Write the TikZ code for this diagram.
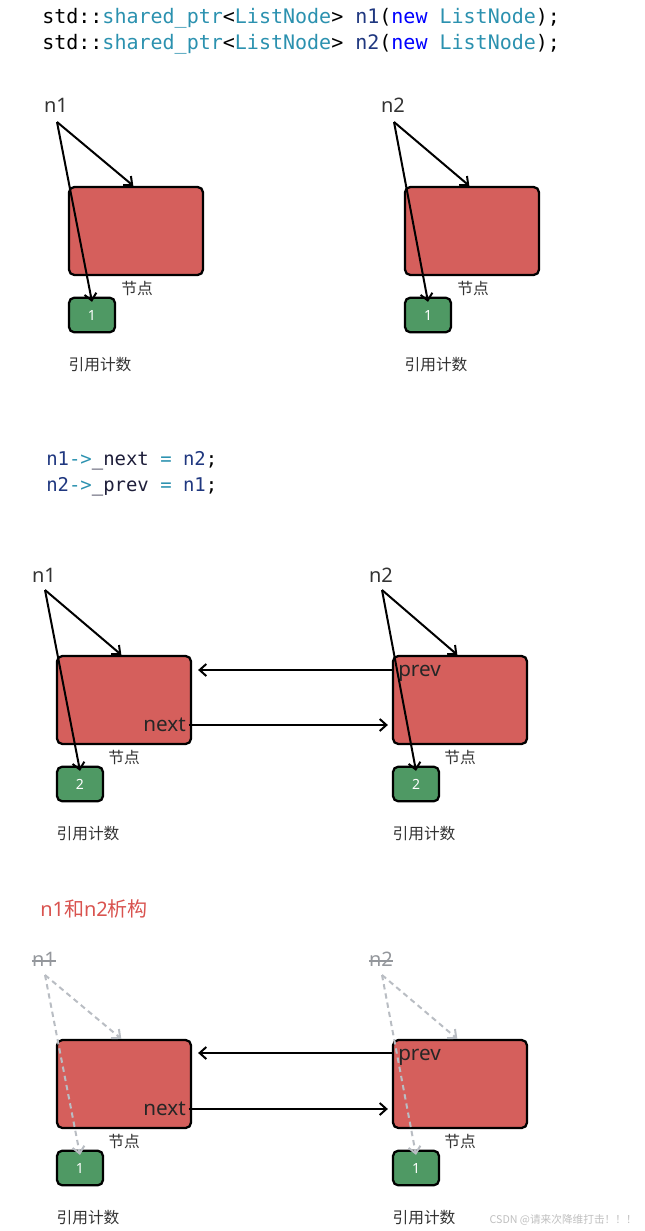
\documentclass[tikz,border=0pt]{standalone}
\usepackage{fontspec}
\setmainfont{Noto Sans}
\newfontfamily\cjk{Noto Sans CJK SC}
\newfontfamily\codefont{DejaVu Sans Mono}
\usetikzlibrary{arrows.meta}
\definecolor{nodered}{HTML}{D55F5C}
\definecolor{cntgreen}{HTML}{4F9964}
\definecolor{codeteal}{HTML}{2B91AF}
\definecolor{codenavy}{HTML}{1F377F}
\definecolor{codeblue}{HTML}{0000FF}
\definecolor{codedark}{HTML}{1E1E3A}
\definecolor{fadegray}{HTML}{B9BDC3}
\definecolor{titlered}{HTML}{D9534F}

\begin{document}
\begin{tikzpicture}[x=0.75pt,y=-0.75pt,
    blk/.style={draw, line width=1.7pt, fill=nodered, rounded corners=4pt, minimum width=100.5pt, minimum height=66pt},
    cnt/.style={draw, line width=1.7pt, fill=cntgreen, rounded corners=4pt, minimum width=34.5pt, minimum height=26pt, text=white, font=\fontsize{10.5}{12}\selectfont},
    ptr/.style={-{Straight Barb[length=5pt, width=9pt]}, line width=1.5pt},
    gptr/.style={-{Straight Barb[length=5pt, width=9pt]}, line width=1.5pt, fadegray, dash pattern=on 4pt off 3pt},
    lbl/.style={inner sep=0pt, text=black!80, font=\fontsize{15}{18}\selectfont},
    fld/.style={inner sep=0pt, text=black!85, font=\fontsize{15.5}{18}\selectfont},
    tag/.style={inner sep=0pt, text=black!80, font=\cjk\fontsize{11.8}{14}\selectfont},
    code/.style={anchor=west, inner sep=0pt, font=\codefont\fontsize{15}{18}\selectfont}]
    \useasboundingbox (0,0) rectangle (645,1231);

    % make two nodes
    \node[code] (cl1) at (42,18) {std::\textcolor{codeteal}{shared\_ptr}<\textcolor{codeteal}{ListNode}> \textcolor{codenavy}{n1}(\textcolor{codeblue}{new} \textcolor{codeteal}{ListNode});};
    \node[code] (cl2) at (42,44) {std::\textcolor{codeteal}{shared\_ptr}<\textcolor{codeteal}{ListNode}> \textcolor{codenavy}{n2}(\textcolor{codeblue}{new} \textcolor{codeteal}{ListNode});};

    \node[lbl] (l1) at (56,105) {n1};
    \coordinate (o1) at (57,122);
    \node[blk] (b1) at (136,231) {};
    \node[cnt] (c1) at (92,315) {1};
    \node[tag] (t1) at (137,289) {节点};
    \node[tag] (r1) at (100,365) {引用计数};
    \draw[ptr] (o1) -- ([xshift=-2pt]b1.north);
    \draw[ptr] (o1) -- ([yshift=-4pt]c1.north);

    \node[lbl] (l2) at (393,105) {n2};
    \coordinate (o2) at (394,122);
    \node[blk] (b2) at (472,231) {};
    \node[cnt] (c2) at (428,315) {1};
    \node[tag] (t2) at (473,289) {节点};
    \node[tag] (r2) at (436,365) {引用计数};
    \draw[ptr] (o2) -- ([xshift=-2pt]b2.north);
    \draw[ptr] (o2) -- ([yshift=-4pt]c2.north);

    % link them
    \node[code, font=\codefont\fontsize{14.2}{17}\selectfont] (cl3) at (46,461) {\textcolor{codenavy}{n1}\textcolor{codeteal}{->}\textcolor{codedark}{\_next} \textcolor{codeteal}{=} \textcolor{codenavy}{n2};};
    \node[code, font=\codefont\fontsize{14.2}{17}\selectfont] (cl4) at (46,487) {\textcolor{codenavy}{n2}\textcolor{codeteal}{->}\textcolor{codedark}{\_prev} \textcolor{codeteal}{=} \textcolor{codenavy}{n1};};

    \node[lbl] (l3) at (44,575) {n1};
    \coordinate (o3) at (45,590);
    \node[blk] (b3) at (124,700) {};
    \node[cnt] (c3) at (80,784) {2};
    \node[tag] (t3) at (124,758) {节点};
    \node[tag] (r3) at (88,834) {引用计数};
    \draw[ptr] (o3) -- ([xshift=-2pt]b3.north);
    \draw[ptr] (o3) -- ([yshift=-4pt]c3.north);

    \node[lbl] (l4) at (381,575) {n2};
    \coordinate (o4) at (382,590);
    \node[blk] (b4) at (460,700) {};
    \node[cnt] (c4) at (416,784) {2};
    \node[tag] (t4) at (460,758) {节点};
    \node[tag] (r4) at (424,834) {引用计数};
    \draw[ptr] (o4) -- ([xshift=-2pt]b4.north);
    \draw[ptr] (o4) -- ([yshift=-4pt]c4.north);

    \node[fld, anchor=east] (nx3) at (186,725) {next};
    \node[fld, anchor=west] (pv4) at (398,673) {prev};
    \draw[ptr] ([xshift=2pt]nx3.east) -- ([xshift=-3pt]b4.west |- nx3.east);
    \draw[ptr] ([xshift=-4pt]pv4.west |- 0,670) -- ([xshift=4.5pt]b3.east |- 0,670);

    % destroy them
    \node[anchor=west, inner sep=0pt, text=titlered, font=\fontsize{15}{18}\selectfont] (ttl) at (40,909) {n1\cjk 和\normalfont n2\cjk 析构};

    \node[lbl, text=fadegray!80!black] (l5) at (44,959) {n1};
    \draw[fadegray!80!black, line width=0.8pt] ([yshift=-1.5pt]l5.west) -- ([yshift=-1.5pt]l5.east);
    \coordinate (o5) at (45,975);
    \node[blk] (b5) at (124,1084) {};
    \node[cnt] (c5) at (80,1168) {1};
    \node[tag] (t5) at (124,1141) {节点};
    \node[tag] (r5) at (88,1218) {引用计数};
    \draw[gptr] (o5) -- ([xshift=-2pt]b5.north);
    \draw[gptr] (o5) -- ([yshift=-4pt]c5.north);

    \node[lbl, text=fadegray!80!black] (l6) at (381,959) {n2};
    \draw[fadegray!80!black, line width=0.8pt] ([yshift=-1.5pt]l6.west) -- ([yshift=-1.5pt]l6.east);
    \coordinate (o6) at (382,975);
    \node[blk] (b6) at (460,1084) {};
    \node[cnt] (c6) at (416,1168) {1};
    \node[tag] (t6) at (460,1141) {节点};
    \node[tag] (r6) at (424,1218) {引用计数};
    \draw[gptr] (o6) -- ([xshift=-2pt]b6.north);
    \draw[gptr] (o6) -- ([yshift=-4pt]c6.north);

    \node[fld, anchor=east] (nx5) at (186,1109) {next};
    \node[fld, anchor=west] (pv6) at (398,1057) {prev};
    \draw[ptr] ([xshift=2pt]nx5.east) -- ([xshift=-3pt]b6.west |- nx5.east);
    \draw[ptr] ([xshift=-4pt]pv6.west |- 0,1053) -- ([xshift=4.5pt]b5.east |- 0,1053);

    \node[anchor=east, inner sep=0pt, text=black!25, font=\cjk\fontsize{8}{10}\selectfont] (wm) at (637,1220) {CSDN @请来次降维打击！！！};

\end{tikzpicture}
\end{document}
